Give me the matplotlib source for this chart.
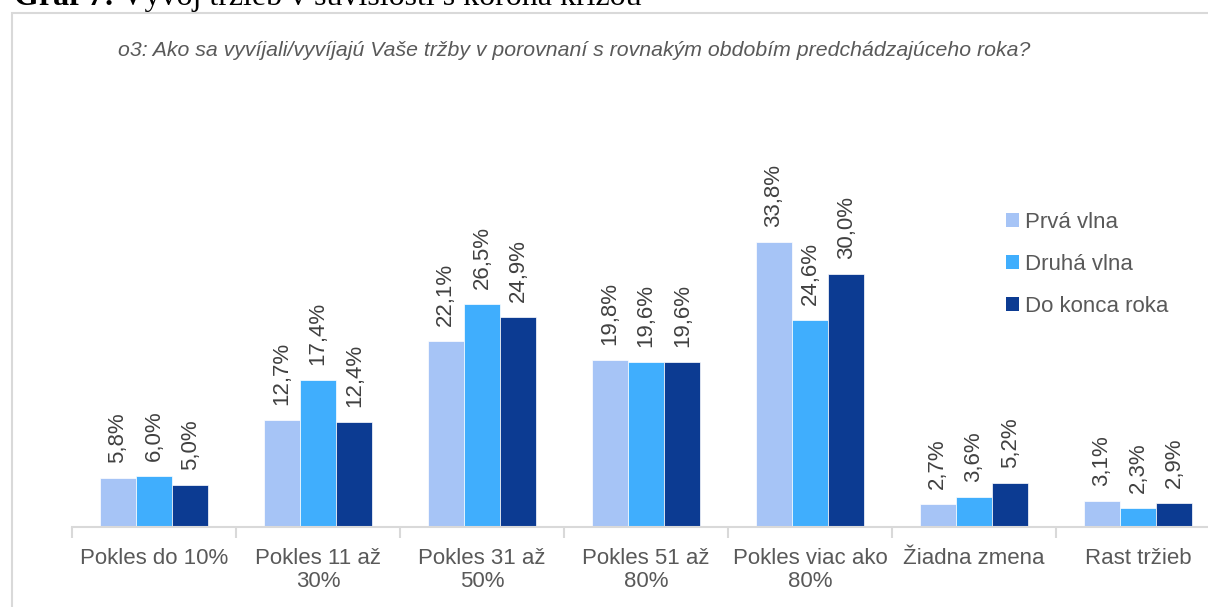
import matplotlib
matplotlib.use("Agg")
import matplotlib.pyplot as plt
from matplotlib.patches import Rectangle, Patch
import numpy as np

plt.rcParams['font.family'] = ['Liberation Sans', 'DejaVu Sans']

categories = ["Pokles do 10%", "Pokles 11 až\n30%", "Pokles 31 až\n50%", "Pokles 51 až\n80%",
              "Pokles viac ako\n80%", "Žiadna zmena", "Rast tržieb"]
series_names = ["Prvá vlna", "Druhá vlna", "Do konca roka"]
prva_vlna = [5.8, 12.7, 22.1, 19.8, 33.8, 2.7, 3.1]
druha_vlna = [6.0, 17.4, 26.5, 19.6, 24.6, 3.6, 2.3]
do_konca_roka = [5.0, 12.4, 24.9, 19.6, 30.0, 5.2, 2.9]
colors = ["#A6C4F6", "#40AEFD", "#0C3B92"]
title_bold = "Graf 7:"
title_rest = " Vývoj tržieb v súvislosti s korona krízou"
question = "o3: Ako sa vyvíjali/vyvíjajú Vaše tržby v porovnaní s rovnakým obdobím predchádzajúceho roka?"

W, H = 1208, 607
fig = plt.figure(figsize=(W / 100, H / 100), dpi=100)

def fx(px):
    return px / W

def fy(py):
    return 1 - py / H

# outer frame
fig.patches.append(Rectangle((fx(12), fy(640)), fx(1300) - fx(12), fy(13) - fy(640),
                             transform=fig.transFigure, fill=False, edgecolor="#D9D9D9", lw=1.5))

# title (partly cut at top, as in the reference)
t1 = fig.text(fx(14), fy(5), title_bold, fontsize=23, fontweight='bold',
              family='Liberation Serif', va='baseline', ha='left', color='black')
fig.canvas.draw()
bb = t1.get_window_extent()
fig.text(bb.x1 / W, fy(5), title_rest, fontsize=23, family='Liberation Serif',
         va='baseline', ha='left', color='black')

fig.text(fx(118), fy(51), question, fontsize=15.3, style='italic', color='#595959',
         va='center', ha='left')

left_px, right_px, base_px, top_px = 72, 72 + 164 * 7, 527, 60
ax = fig.add_axes([fx(left_px), fy(base_px), fx(right_px) - fx(left_px), fy(top_px) - fy(base_px)])
ppu = 8.43
ax.set_ylim(0, (base_px - top_px) / ppu)
ax.set_xlim(-0.5, len(categories) - 0.5)

x = np.arange(len(categories))
bw = 0.2215
handles = []
for i, (vals, col, name) in enumerate(zip([prva_vlna, druha_vlna, do_konca_roka], colors, series_names)):
    ax.bar(x + (i - 1) * bw, vals, width=bw, color=col, edgecolor='white', linewidth=0.5, label=name)
    for xi, v in zip(x + (i - 1) * bw, vals):
        ax.annotate(f"{v:.1f}%".replace('.', ','), (xi, v), xytext=(0, 15), textcoords='offset pixels',
                    rotation=90, ha='center', va='bottom', fontsize=16, color='#404040')
    handles.append(Patch(facecolor=col, label=name))

for s in ['top', 'right', 'left']:
    ax.spines[s].set_visible(False)
ax.spines['bottom'].set_color('#D9D9D9')
ax.spines['bottom'].set_linewidth(1.5)
ax.set_yticks([])
ax.set_xticks(x)
ax.set_xticklabels(categories, fontsize=16, color='#595959', linespacing=1.15)
ax.tick_params(axis='x', which='major', length=0, pad=15)
ax.set_xticks(np.arange(-0.5, len(categories), 1), minor=True)
ax.tick_params(axis='x', which='minor', length=8, color='#D9D9D9', width=1.5)
ax.patch.set_alpha(0)

leg = fig.legend(handles=handles, loc='upper left', bbox_to_anchor=(fx(1006), fy(212)),
                 frameon=False, fontsize=16, handlelength=0.6, handleheight=0.6,
                 handletextpad=0.25, labelspacing=0.95, borderpad=0, borderaxespad=0)
for t in leg.get_texts():
    t.set_color('#595959')

fig.savefig("out.png", dpi=100)
